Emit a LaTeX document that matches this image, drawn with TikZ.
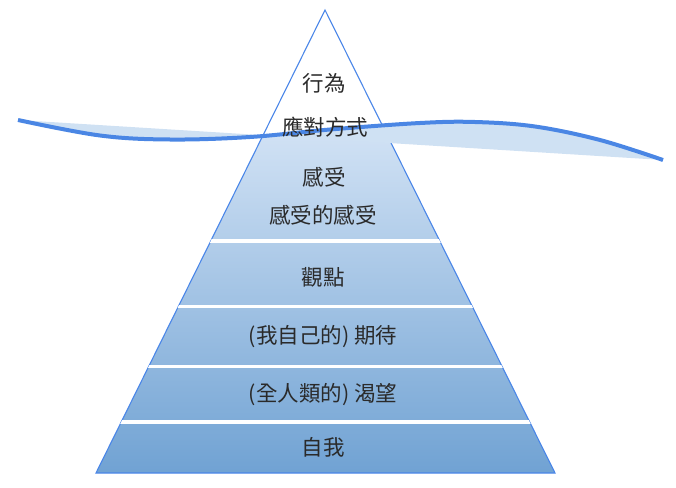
\documentclass[tikz,border=0pt]{standalone}
\usepackage{fontspec}
\newfontfamily\cjk{Noto Sans CJK TC}
\definecolor{edgeblue}{HTML}{4A86E8}
\definecolor{waveblue}{HTML}{4A86E4}
\definecolor{bandblue}{HTML}{CFE1F3}
\definecolor{toplayer}{HTML}{D3E3F5}
\definecolor{botlayer}{HTML}{70A2D3}
\definecolor{txt}{HTML}{2A2A2A}
\tikzset{
  lbl/.style={font=\cjk\fontsize{21.5}{24}\selectfont, text=txt, inner sep=0pt},
  sep/.style={draw=white, line width=3.5pt},
}
\newcommand{\wavepath}{plot[smooth, tension=0.6] coordinates {(18,120) (100,135.5) (170,139.5) (250,137) (330,129.5) (420,123) (475,122) (535,126.5) (600,140) (663,160)}}
\begin{document}
\begin{tikzpicture}[x=1pt,y=-1pt]
\useasboundingbox (0,0) rectangle (676,487);
\coordinate (apex) at (325,10);
\coordinate (bl) at (96,473);
\coordinate (br) at (555,473);
% gradient fill of pyramid, below the water line
\begin{scope}
  \clip (apex) -- (br) -- (bl) -- cycle;
  \clip \wavepath -- (663,500) -- (18,500) -- cycle;
  \shade[top color=toplayer, bottom color=botlayer] (90,125) rectangle (560,474);
\end{scope}
% pyramid outline
\draw[edgeblue, line width=1.1pt, line join=miter] (apex) -- (br) -- (bl) -- cycle;
% separators
\begin{scope}
  \clip (apex) -- (br) -- (bl) -- cycle;
  \foreach \yy in {241,306.5,366.5,422}{
    \draw[sep] (90,\yy) -- (560,\yy);
  }
\end{scope}
% water band
\fill[bandblue] \wavepath -- cycle;
% water line
\draw[waveblue, line width=4pt] \wavepath;
% labels
\node[lbl] (t1) at (324,83) {行為};
\node[lbl] (t2) at (325,127) {應對方式};
\node[lbl] (t3) at (324,177) {感受};
\node[lbl] (t4) at (323,215) {感受的感受};
\node[lbl] (t5) at (323,277) {觀點};
\node[lbl] (t6) at (323,337) {(我自己的) 期待};
\node[lbl] (t7) at (323,395) {(全人類的) 渴望};
\node[lbl] (t8) at (323,447) {自我};
\end{tikzpicture}
\end{document}
